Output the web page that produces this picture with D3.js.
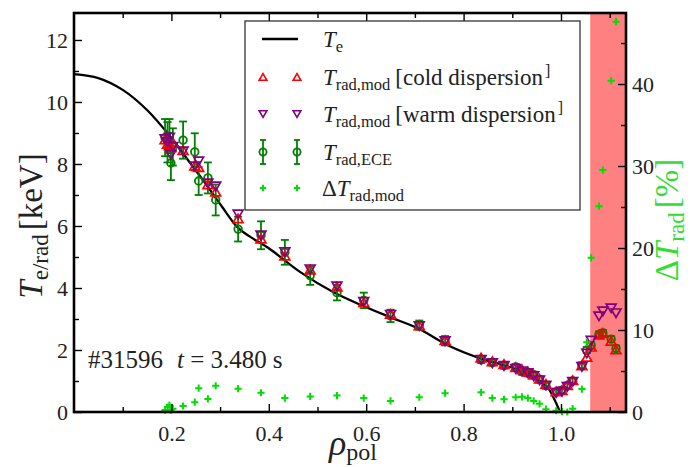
<!DOCTYPE html>
<html><head><meta charset="utf-8">
<script src="https://cdn.jsdelivr.net/npm/d3@7"></script>
<style>
body{margin:0;background:#fff}
svg{display:block}
text{font-family:"Liberation Serif","DejaVu Serif",serif;}
</style>
</head><body>
<svg id="c" width="691" height="467"></svg>
<script>
// ---- data ----
const teRho     = [0, 0.05, 0.1, 0.15, 0.2, 0.234, 0.269, 0.304, 0.337, 0.372, 0.4, 0.464, 0.532, 0.594, 0.649, 0.706, 0.772, 0.834, 0.881, 0.93, 0.971, 0.985, 0.998];
const teProfile = [10.9, 10.77, 10.39, 9.74, 8.84, 8.13, 7.39, 6.62, 5.94, 5.55, 5.28, 4.52, 3.87, 3.42, 3.06, 2.7, 2.12, 1.73, 1.52, 1.25, 0.82, 0.45, 0.0];

const chRho  = [0.187,0.192,0.196,0.199,0.203,0.224,0.248,0.256,0.275,0.291,0.337,0.384,0.433,0.485,0.54,0.595,0.65,0.709,0.762,0.836,0.859,0.883,0.907,0.92,0.932,0.944,0.956,0.969,0.99,1.002,1.013,1.024,1.043,1.053,1.062,1.078,1.086,1.103,1.113];
const tCold  = [8.75,8.6,8.55,8.5,8.65,8.4,7.9,7.85,7.3,7.06,6.2,5.55,5.0,4.55,4.0,3.5,3.12,2.75,2.27,1.71,1.59,1.5,1.4,1.33,1.26,1.16,1.03,0.86,0.62,0.66,0.82,0.98,1.46,1.73,2.06,2.45,2.5,2.25,1.97];
const tWarm  = [8.85,8.75,8.9,8.35,8.6,8.45,7.97,8.13,7.42,7.32,6.42,5.74,5.2,4.65,4.1,3.6,3.18,2.82,2.33,1.73,1.62,1.53,1.44,1.36,1.3,1.2,1.07,0.9,0.66,0.7,0.86,1.02,1.5,1.93,2.35,3.13,3.29,3.39,3.23];
const tECE   = [8.85,8.7,8.9,8.03,8.55,8.77,8.39,7.45,7.55,6.84,5.9,5.7,5.15,4.4,3.85,3.6,3.1,2.8,2.3,1.68,1.6,1.5,1.45,1.3,1.25,1.2,1.05,0.85,0.65,0.7,0.85,1.0,1.5,2.0,2.15,2.5,2.55,2.35,2.05];
const tECEerr= [0.6,0.65,0.55,0.55,0.6,0.6,0.6,0.45,0.5,0.5,0.4,0.45,0.4,0.3,0.25,0.25,0.2,0.15,0.15,0.1,0.1,0.1,0.1,0.1,0.1,0.1,0.1,0.1,0.1,0.1,0.1,0.1,0.1,0.1,0.1,0.1,0.1,0.1,0.1];
const dTrad  = [0.24,0.6,0.85,0.24,0.4,0.73,1.2,2.9,1.6,3.2,2.85,2.35,1.7,1.9,2.0,1.7,1.35,1.8,2.3,2.4,1.7,1.55,1.8,1.85,1.7,1.35,1.0,0.35,0.15,0.05,0.0,0.4,2.8,8.5,18.8,25.1,29.5,40.4,47.6];

const xMajor  = [0.2,0.4,0.6,0.8,1.0];
const xMinor  = [0.1,0.3,0.5,0.7,0.9,1.1];
const yMajor  = [0,2,4,6,8,10,12];
const yMinor  = [1,3,5,7,9,11];
const y2Major = [0,10,20,30,40];
const y2Minor = [5,15,25,35,45];
const bandStart = 1.06;

// ---- layout ----
const svg = d3.select("#c");
const m = {l:74, r:626, t:13, b:412};
const x  = d3.scaleLinear().domain([0, 1.1335]).range([m.l, m.r]);
const y  = d3.scaleLinear().domain([0, 12.87]).range([m.b, m.t]);
const y2 = d3.scaleLinear().domain([0, 48.66]).range([m.b, m.t]);

const C = {cold:"#ff0000", warm:"#800080", ece:"#007f00", delta:"#00e000", band:"#ff8080"};

// shaded region
svg.append("rect").attr("x", x(bandStart)).attr("y", m.t)
  .attr("width", x.range()[1]-x(bandStart)).attr("height", m.b-m.t).attr("fill", C.band);

// Te profile
svg.append("path").datum(teProfile)
  .attr("d", d3.line().x((d,i)=>x(teRho[i])).y(d=>y(d)).curve(d3.curveCatmullRom.alpha(0.5)))
  .attr("fill","none").attr("stroke","#000").attr("stroke-width",2.3);

const idx = d3.range(chRho.length);

// ECE with error bars
const ge = svg.append("g").attr("stroke", C.ece).attr("fill","none").attr("stroke-width",1.8);
idx.forEach(i=>{
  const cx = x(chRho[i]);
  const g = ge.append("g");
  g.append("line").attr("x1",cx).attr("x2",cx).attr("y1",y(tECE[i]-tECEerr[i])).attr("y2",y(tECE[i]+tECEerr[i]));
  [tECE[i]-tECEerr[i], tECE[i]+tECEerr[i]].forEach(v=>{
    g.append("line").attr("x1",cx-4).attr("x2",cx+4).attr("y1",y(v)).attr("y2",y(v));
  });
  g.append("circle").attr("cx",cx).attr("cy",y(tECE[i])).attr("r",3.8);
});

const triUp = d3.symbol(d3.symbolTriangle, 42)();

svg.append("g").selectAll("path").data(idx).join("path")
  .attr("d", triUp).attr("transform", i=>`translate(${x(chRho[i])},${y(tCold[i])})`)
  .attr("fill","none").attr("stroke",C.cold).attr("stroke-width",1.7);

svg.append("g").selectAll("path").data(idx).join("path")
  .attr("d", triUp).attr("transform", i=>`translate(${x(chRho[i])},${y(tWarm[i])}) rotate(180)`)
  .attr("fill","none").attr("stroke",C.warm).attr("stroke-width",1.7);

const plus = "M-3.6,0H3.6M0,-3.6V3.6";
svg.append("g").selectAll("path").data(idx).join("path")
  .attr("d", plus).attr("transform", i=>`translate(${x(chRho[i])},${y2(dTrad[i])})`)
  .attr("fill","none").attr("stroke",C.delta).attr("stroke-width",2);

// ---- axes ----
function axis(gen, tr){
  const g = svg.append("g").attr("transform",tr).call(gen);
  g.select(".domain").remove();
  g.selectAll("line").attr("stroke","#000").attr("stroke-width",1.4);
  g.selectAll("text").attr("font-size",22).attr("fill","#222").attr("font-family","Liberation Serif, serif");
  return g;
}
axis(d3.axisBottom(x).tickValues(xMinor).tickSize(-5).tickFormat(""), `translate(0,${m.b})`);
axis(d3.axisBottom(x).tickValues(xMajor).tickSize(-8).tickPadding(13).tickFormat(d3.format(".1f")), `translate(0,${m.b})`);
axis(d3.axisTop(x).tickValues(xMinor).tickSize(-5).tickFormat(""), `translate(0,${m.t})`);
axis(d3.axisTop(x).tickValues(xMajor).tickSize(-8).tickFormat(""), `translate(0,${m.t})`);
axis(d3.axisLeft(y).tickValues(yMinor).tickSize(-5).tickFormat(""), `translate(${m.l},0)`);
axis(d3.axisLeft(y).tickValues(yMajor).tickSize(-8).tickPadding(6).tickFormat(d3.format("d")), `translate(${m.l},0)`);
axis(d3.axisRight(y2).tickValues(y2Minor).tickSize(-5).tickFormat(""), `translate(${m.r},0)`);
axis(d3.axisRight(y2).tickValues(y2Major).tickSize(-8).tickPadding(6).tickFormat(d3.format("d")), `translate(${m.r},0)`);

// frame
svg.append("rect").attr("x",m.l).attr("y",m.t).attr("width",m.r-m.l).attr("height",m.b-m.t)
  .attr("fill","none").attr("stroke","#000").attr("stroke-width",2.6);

// ---- legend ----
const L = svg.append("g");
L.append("rect").attr("x",245).attr("y",21).attr("width",335).attr("height",189)
  .attr("fill","#fff").attr("stroke","#333").attr("stroke-width",1.3);
const rows = [39, 77, 114, 152, 188];
const mx = [263, 297];
L.append("line").attr("x1",262).attr("x2",298).attr("y1",rows[0]).attr("y2",rows[0]).attr("stroke","#000").attr("stroke-width",2.3);
const triS = d3.symbol(d3.symbolTriangle, 26)();
mx.forEach(cx=>{
  L.append("path").attr("d",triS).attr("transform",`translate(${cx},${rows[1]+1})`).attr("fill","none").attr("stroke",C.cold).attr("stroke-width",1.6);
  L.append("path").attr("d",triS).attr("transform",`translate(${cx},${rows[2]-1}) rotate(180)`).attr("fill","none").attr("stroke",C.warm).attr("stroke-width",1.6);
  const g = L.append("g").attr("stroke",C.ece).attr("fill","none").attr("stroke-width",1.8);
  g.append("line").attr("x1",cx).attr("x2",cx).attr("y1",rows[3]-12).attr("y2",rows[3]+12);
  g.append("line").attr("x1",cx-3).attr("x2",cx+3).attr("y1",rows[3]-12).attr("y2",rows[3]-12);
  g.append("line").attr("x1",cx-3).attr("x2",cx+3).attr("y1",rows[3]+12).attr("y2",rows[3]+12);
  g.append("circle").attr("cx",cx).attr("cy",rows[3]).attr("r",3.6);
  L.append("path").attr("d","M-3.2,0H3.2M0,-3.2V3.2").attr("transform",`translate(${cx},${rows[4]})`).attr("fill","none").attr("stroke",C.delta).attr("stroke-width",2);
});

function mathLabel(g, xx, yy, parts, size){
  const t = g.append("text").attr("x",xx).attr("y",yy).attr("font-size",size).attr("fill","#222");
  parts.forEach(p=>{
    const s = t.append("tspan").text(p.t);
    if(p.i) s.attr("font-style","italic");
    if(p.fs) s.attr("font-size",p.fs);
    if(p.dy) s.attr("dy",p.dy);
    if(p.dx) s.attr("dx",p.dx);
  });
  return t;
}
const LX = 323, FS = 23, SFS = 16.5;
mathLabel(L, LX, rows[0]+7.5, [{t:"T",i:1},{t:"e",fs:SFS,dy:5}], FS);
mathLabel(L, LX, rows[1]+7.5, [{t:"T",i:1},{t:"rad,mod",fs:SFS,dy:5},{t:"[cold dispersion",dy:-5,dx:5},{t:"]",fs:16,dy:-9,dx:2}], FS);
mathLabel(L, LX, rows[2]+7.5, [{t:"T",i:1},{t:"rad,mod",fs:SFS,dy:5},{t:"[warm dispersion",dy:-5,dx:5},{t:"]",fs:16,dy:-9,dx:2}], FS);
mathLabel(L, LX, rows[3]+7.5, [{t:"T",i:1},{t:"rad,ECE",fs:SFS,dy:5}], FS);
mathLabel(L, LX-1, rows[4]+7.5, [{t:"Δ"},{t:"T",i:1},{t:"rad,mod",fs:SFS,dy:5}], FS);

// ---- axis titles ----
mathLabel(svg, 0, 0, [{t:"T",i:1},{t:"e/rad",fs:23,dy:6},{t:"[keV]",dy:-6,dx:4}], 33)
  .attr("text-anchor","middle").attr("transform","translate(42,226) rotate(-90)");
mathLabel(svg, 0, 0, [{t:"ρ",i:1},{t:"pol",fs:24,dy:5}], 36)
  .attr("text-anchor","middle").attr("transform","translate(353,455)");
mathLabel(svg, 0, 0, [{t:"Δ"},{t:"T",i:1},{t:"rad",fs:23,dy:6},{t:"[%]",dy:-6,dx:4}], 33)
  .attr("text-anchor","middle").attr("fill","#33dd33").attr("transform","translate(678,220) rotate(-90)");

// ---- annotation ----
mathLabel(svg, 88, 368, [{t:"#31596"},{t:"t",i:1,dx:14},{t:" = 3.480"},{t:"s",dx:6}], 25);
</script>
</body></html>
